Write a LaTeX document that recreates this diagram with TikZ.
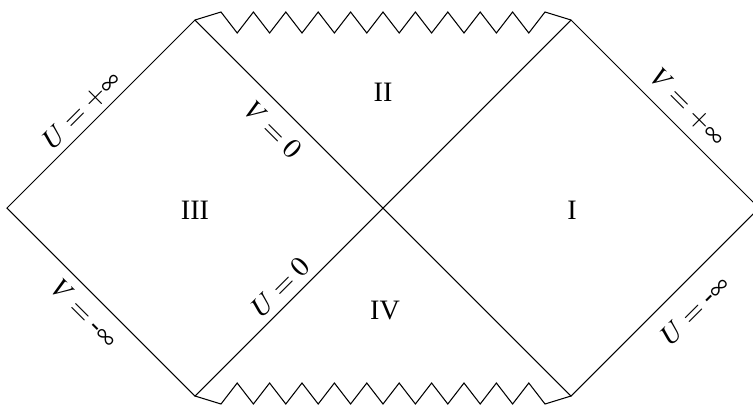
\documentclass[tikz,border=0pt]{standalone}
\usepackage{mathptmx}
\usepackage{fontspec}
\setmainfont{Liberation Serif}
\begin{document}
\begin{tikzpicture}[x=0.02cm, y=0.02cm, line width=0.6pt,
  every node/.style={font=\fontsize{16}{19}\selectfont},
  region/.style={inner sep=0pt},
  horizon/.style={inner sep=1pt}]
\useasboundingbox (-383,-199) rectangle (370,208);
\def\L{188}
% ---------- the two diamonds ----------
\coordinate (W) at (-2*\L,0);
\coordinate (E) at (2*\L,0);
\coordinate (NW) at (-\L,\L);
\coordinate (NE) at (\L,\L);
\coordinate (SW) at (-\L,-\L);
\coordinate (SE) at (\L,-\L);
\draw (W) -- (NW) -- (SE) -- (E) -- (NE) -- (SW) -- cycle;
% ---------- singularities, as zigzags ----------
\draw (NW) \foreach \k in {0,...,9} { -- ({-162+32.4*\k},196) -- ({-145.8+32.4*\k},175) } -- (162,196) -- (NE);
\draw (SW) \foreach \k in {0,...,9} { -- ({-162+32.4*\k},-196) -- ({-145.8+32.4*\k},-175) } -- (162,-196) -- (SE);
% ---------- regions ----------
\node[region] (regI) at (189,-2) {I};
\node[region] (regII) at (0,116) {II};
\node[region] (regIII) at (-188,-2) {III};
\node[region] (regIV) at (2,-102) {IV};
% ---------- the horizons and infinities ----------
\node[horizon, rotate=45] (Upinf) at (-301,98) {$U=+\infty$};
\node[horizon, rotate=-45] (Vzero) at (-110,78) {$V=0$};
\node[horizon, rotate=45] (Uzero) at (-103,-79) {$U=0$};
\node[horizon, rotate=-45] (Vpinf) at (305,100) {$V=+\infty$};
\node[horizon, rotate=45] (Uminf) at (312,-102) {$U=\mbox{-}\infty$};
\node[horizon, rotate=-45] (Vminf) at (-298,-106) {$V=\mbox{-}\infty$};
\end{tikzpicture}
\end{document}
